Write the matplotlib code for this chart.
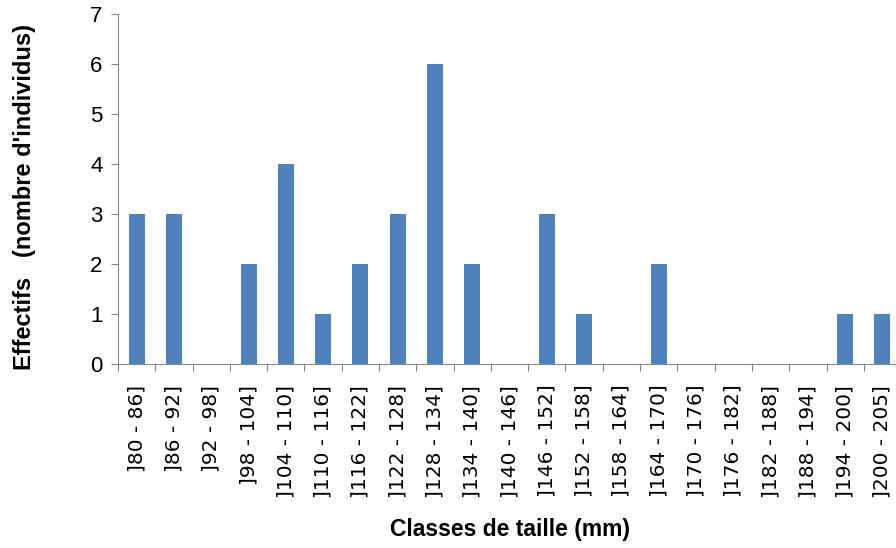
import matplotlib
matplotlib.use("Agg")
import matplotlib.pyplot as plt
import numpy as np

# size classes (mm) and counts
classes = [']80 - 86]', ']86 - 92]', ']92 - 98]', ']98 - 104]', ']104 - 110]',
           ']110 - 116]', ']116 - 122]', ']122 - 128]', ']128 - 134]', ']134 - 140]',
           ']140 - 146]', ']146 - 152]', ']152 - 158]', ']158 - 164]', ']164 - 170]',
           ']170 - 176]', ']176 - 182]', ']182 - 188]', ']188 - 194]', ']194 - 200]',
           ']200 - 205]']
counts = [3, 3, 0, 2, 4, 1, 2, 3, 6, 2, 0, 3, 1, 0, 2, 0, 0, 0, 0, 1, 1]

plt.rcParams['font.family'] = ['Liberation Sans', 'DejaVu Sans']

fig = plt.figure(figsize=(8.96, 5.48), dpi=100)
ax = fig.add_axes([0.1317, 0.336, 0.874, 0.638])

x = np.arange(len(classes))
ax.bar(x, counts, width=0.43, color='#4F81BD')

ax.set_xlim(-0.5, len(classes) - 0.5)
ax.set_ylim(0, 7)
ax.set_yticks(range(0, 8))
ax.tick_params(axis='y', labelsize=16, length=5, color='#868686', pad=6)

# tick marks sit on the class boundaries, labels under each bar
ax.set_xticks(np.arange(-0.5, len(classes), 1.0))
ax.set_xticklabels([])
ax.set_xticks(x, minor=True)
ax.set_xticklabels(classes, minor=True, rotation=90, fontsize=14.5,
                   family='DejaVu Sans')
ax.tick_params(axis='x', which='major', length=5, color='#868686')
ax.tick_params(axis='x', which='minor', length=0, pad=15)

for s in ['top', 'right']:
    ax.spines[s].set_visible(False)
for s in ['left', 'bottom']:
    ax.spines[s].set_color('#868686')

ax.set_xlabel('Classes de taille (mm)', fontsize=16.5, fontweight='bold')
ax.xaxis.set_label_coords(0.5, -0.475)
ax.xaxis.label.set_va('center')
ax.set_ylabel("Effectifs   (nombre d'individus)", fontsize=17, fontweight='bold')
ax.yaxis.set_label_coords(-0.119, 0.477)
ax.yaxis.label.set_va('center')

fig.savefig('out.png', dpi=100)
